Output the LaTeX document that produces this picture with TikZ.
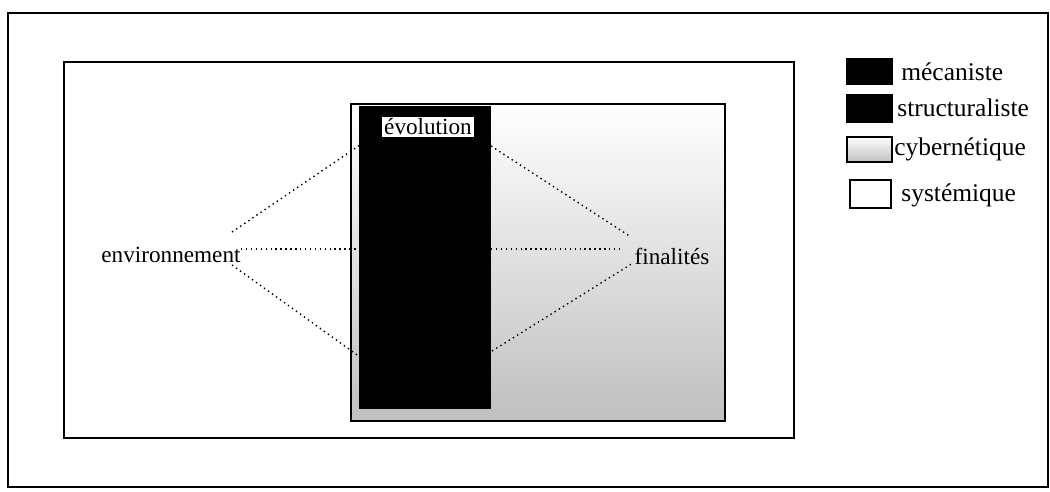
\documentclass[tikz,border=0pt]{standalone}
\usepackage{fontspec}
\setmainfont{Liberation Serif}
\usetikzlibrary{positioning}
\tikzset{box/.style={draw,line width=1pt},
         lien/.style={dotted,line width=0.8pt},
         lbl/.style={font=\fontsize{13.2}{15}\selectfont,inner sep=1pt},
         leg/.style={font=\fontsize{14.5}{17}\selectfont,inner sep=0pt,anchor=west}}

\begin{document}
\begin{tikzpicture}[x=0.02cm,y=-0.02cm]
    \useasboundingbox (0,0) rectangle (1050,492);
    % cadres
    \draw[line width=0.8pt] (8,13) rectangle (1048,487);
    \draw[box] (64,62) rectangle (794,438);
    \draw[box,top color=white,bottom color=black!25] (351,104) rectangle (725,421);
    \draw[box,fill=black] (360,107) rectangle (490,408);

    % textes
    \node[lbl,fill=white] (evo) at (428,127) {évolution};
    \node[lbl] (env) at (171,255) {environnement};
    \node[lbl] (fin) at (672,256) {finalités};

    % extremites des liens
    \coordinate (e1) at (232,232);
    \coordinate (e2) at (241,249);
    \coordinate (e3) at (232,265);
    \coordinate (g1) at (360,145);
    \coordinate (g2) at (360,249);
    \coordinate (g3) at (360,357);
    \coordinate (d1) at (491,146);
    \coordinate (d2) at (491,249);
    \coordinate (d3) at (492,351);
    \coordinate (f1) at (631,237);
    \coordinate (f2) at (619,249);
    \coordinate (f3) at (633,263);

    \draw[lien] (e1) -- (g1);
    \draw[lien] (e2) -- (g2);
    \draw[lien] (e3) -- (g3);
    \draw[lien] (d1) -- (f1);
    \draw[lien] (d2) -- (f2);
    \draw[lien] (d3) -- (f3);

    % legende
    \draw[box,fill=black] (847,59) rectangle (892,84);
    \node[leg] (meca) at (901,72) {mécaniste};
    \draw[box,fill=black] (847,95) rectangle (892,122);
    \node[leg] (struc) at (897,108) {structuraliste};
    \draw[box,top color=white,bottom color=black!25] (847,137) rectangle (892,162);
    \node[leg] (cyber) at (894,149) {cybernétique};
    \draw[box,fill=white] (850,180) rectangle (891,208);
    \node[leg] (syst) at (901,195) {systémique};
\end{tikzpicture}
\end{document}
